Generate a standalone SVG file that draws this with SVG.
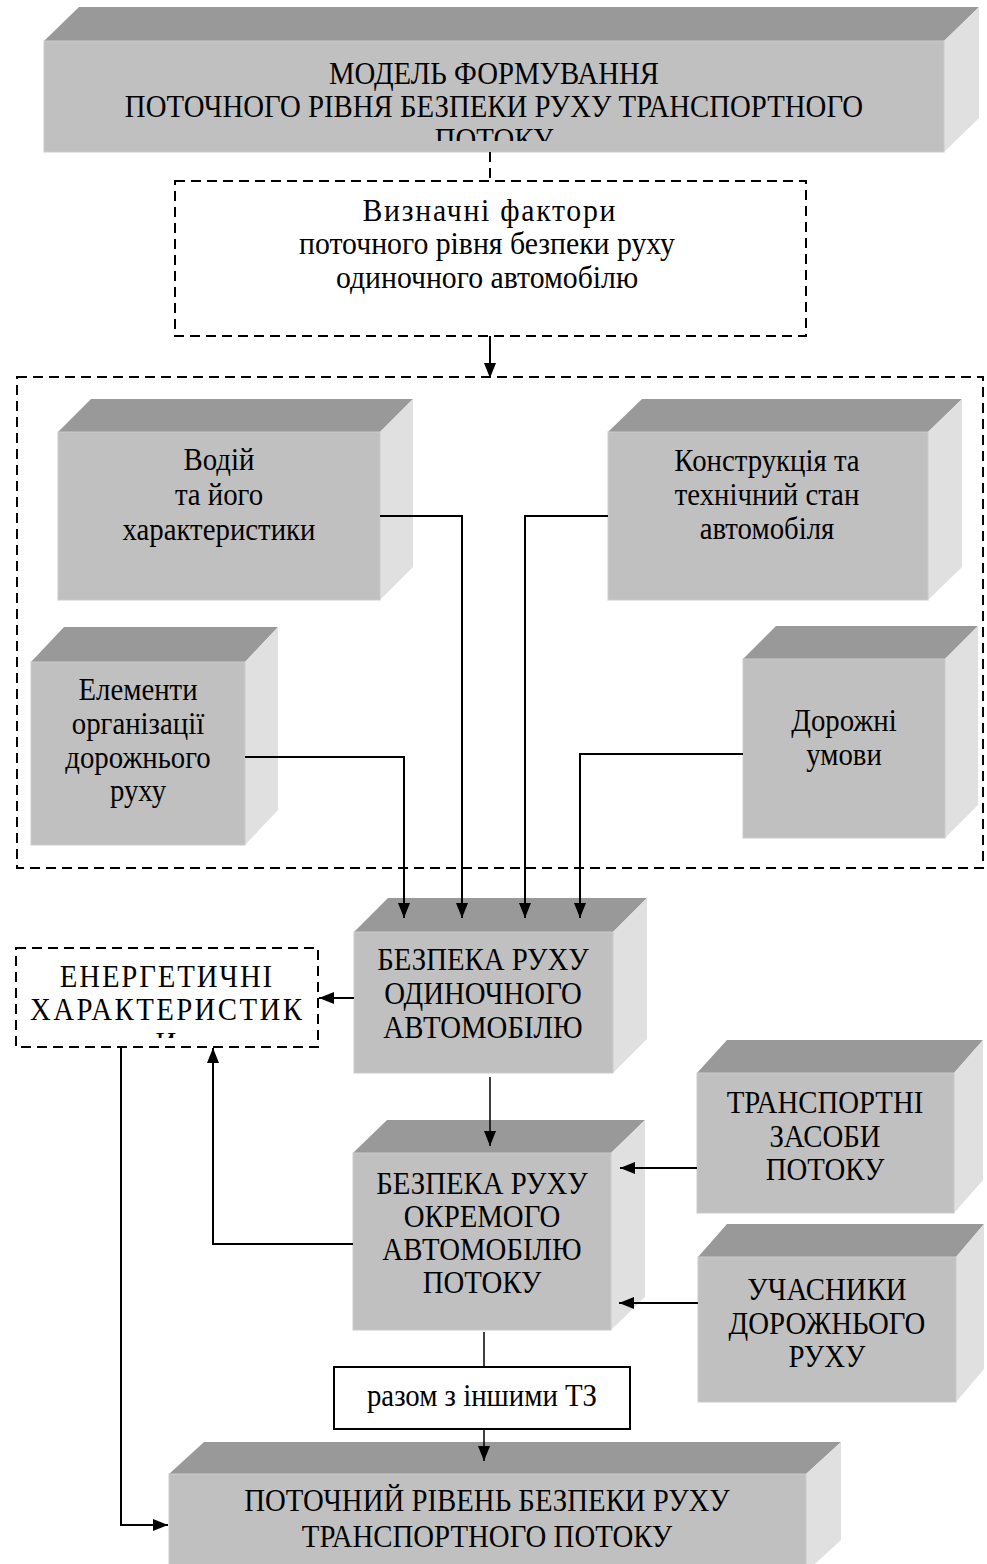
<svg xmlns="http://www.w3.org/2000/svg" width="987" height="1564" viewBox="0 0 987 1564">
<style>
.front{fill:#c0c0c0;stroke:#cbcbcb;stroke-width:1}
.top{fill:#999999}
.side{fill:#e0e0e0}
.t{font-family:"Liberation Serif","Times New Roman",serif;font-size:32px;fill:#000;text-anchor:middle}
.conn{fill:none;stroke:#000;stroke-width:2}
.thin{fill:none;stroke:#000;stroke-width:1.5}
.dash{fill:none;stroke:#000;stroke-width:2;stroke-dasharray:10 6}
</style>
<defs>
<marker id="ah" markerUnits="userSpaceOnUse" markerWidth="16" markerHeight="14" viewBox="0 0 16 14" refX="15" refY="6" orient="auto">
<path d="M0,0 L15,6 L0,12 Z" fill="#000"/>
</marker>
<clipPath id="clipTop"><rect x="44" y="41" width="900" height="100"/></clipPath>
<clipPath id="clipEn"><rect x="16" y="948" width="302" height="90"/></clipPath>
</defs>

<g id="model">
<polygon class="top" points="44,41 79,7 979,7 944,41"/>
<polygon class="side" points="944,41 979,7 979,118 944,152"/>
<rect class="front" x="44" y="41" width="900" height="111"/>
<g clip-path="url(#clipTop)">
<text class="t" transform="translate(494,84) scale(0.9,1)">МОДЕЛЬ ФОРМУВАННЯ</text>
<text class="t" transform="translate(494,117) scale(0.9,1)">ПОТОЧНОГО РІВНЯ БЕЗПЕКИ РУХУ ТРАНСПОРТНОГО</text>
<text class="t" transform="translate(494,150) scale(0.9,1)">ПОТОКУ</text>
</g>
</g>

<g id="factors">
<rect class="dash" x="175" y="181" width="631" height="155"/>
<text class="t" transform="translate(489,221) scale(0.93,1)" textLength="272">Визначні фактори</text>
<text class="t" transform="translate(487,254) scale(0.93,1)">поточного рівня безпеки руху</text>
<text class="t" transform="translate(487,288) scale(0.93,1)">одиночного автомобілю</text>
</g>

<g id="factor-group">
<rect class="dash" x="17" y="377" width="966" height="491"/>
</g>

<g id="driver">
<polygon class="top" points="58,432 91,399 413,399 380,432"/>
<polygon class="side" points="380,432 413,399 413,567 380,600"/>
<rect class="front" x="58" y="432" width="322" height="168"/>
<text class="t" transform="translate(219,470) scale(0.9,1)">Водій</text>
<text class="t" transform="translate(219,505) scale(0.9,1)">та його</text>
<text class="t" transform="translate(219,540) scale(0.9,1)">характеристики</text>
</g>

<g id="vehicle">
<polygon class="top" points="608,432 642,399 962,399 928,432"/>
<polygon class="side" points="928,432 962,399 962,567 928,600"/>
<rect class="front" x="608" y="432" width="320" height="168"/>
<text class="t" transform="translate(767,471) scale(0.9,1)">Конструкція та</text>
<text class="t" transform="translate(767,505) scale(0.9,1)">технічний стан</text>
<text class="t" transform="translate(767,539) scale(0.9,1)">автомобіля</text>
</g>

<g id="organization">
<polygon class="top" points="31,662 64,627 278,627 245,662"/>
<polygon class="side" points="245,662 278,627 278,810 245,845"/>
<rect class="front" x="31" y="662" width="214" height="183"/>
<text class="t" transform="translate(138,700) scale(0.9,1)">Елементи</text>
<text class="t" transform="translate(138,734) scale(0.9,1)">організації</text>
<text class="t" transform="translate(138,768) scale(0.9,1)">дорожнього</text>
<text class="t" transform="translate(138,801) scale(0.9,1)">руху</text>
</g>

<g id="road">
<polygon class="top" points="743,659 776,626 978,626 945,659"/>
<polygon class="side" points="945,659 978,626 978,805 945,838"/>
<rect class="front" x="743" y="659" width="202" height="179"/>
<text class="t" transform="translate(844,731) scale(0.9,1)">Дорожні</text>
<text class="t" transform="translate(844,765) scale(0.9,1)">умови</text>
</g>

<g id="single-car">
<polygon class="top" points="354,932 388,898 647,898 613,932"/>
<polygon class="side" points="613,932 647,898 647,1039 613,1073"/>
<rect class="front" x="354" y="932" width="259" height="141"/>
<text class="t" transform="translate(483,970) scale(0.9,1)">БЕЗПЕКА РУХУ</text>
<text class="t" transform="translate(483,1004) scale(0.9,1)">ОДИНОЧНОГО</text>
<text class="t" transform="translate(483,1038) scale(0.9,1)">АВТОМОБІЛЮ</text>
</g>

<g id="energy">
<rect class="dash" x="16" y="948" width="302" height="99"/>
<g clip-path="url(#clipEn)">
<text class="t" transform="translate(166,987) scale(0.9,1)" textLength="236">ЕНЕРГЕТИЧНІ</text>
<text class="t" transform="translate(166,1020) scale(0.9,1)" textLength="302">ХАРАКТЕРИСТИК</text>
<text class="t" transform="translate(166,1054) scale(0.9,1)">И</text>
</g>
</g>

<g id="stream-car">
<polygon class="top" points="353,1153 387,1120 645,1120 611,1153"/>
<polygon class="side" points="611,1153 645,1120 645,1297 611,1330"/>
<rect class="front" x="353" y="1153" width="258" height="177"/>
<text class="t" transform="translate(482,1194) scale(0.9,1)">БЕЗПЕКА РУХУ</text>
<text class="t" transform="translate(482,1227) scale(0.9,1)">ОКРЕМОГО</text>
<text class="t" transform="translate(482,1260) scale(0.9,1)">АВТОМОБІЛЮ</text>
<text class="t" transform="translate(482,1293) scale(0.9,1)">ПОТОКУ</text>
</g>

<g id="vehicles">
<polygon class="top" points="697,1073 727,1040 983,1040 954,1073"/>
<polygon class="side" points="954,1073 983,1040 983,1180 954,1213"/>
<rect class="front" x="697" y="1073" width="257" height="140"/>
<text class="t" transform="translate(825,1113) scale(0.9,1)">ТРАНСПОРТНІ</text>
<text class="t" transform="translate(825,1147) scale(0.9,1)">ЗАСОБИ</text>
<text class="t" transform="translate(825,1180) scale(0.9,1)">ПОТОКУ</text>
</g>

<g id="participants">
<polygon class="top" points="698,1257 727,1224 984,1224 956,1257"/>
<polygon class="side" points="956,1257 984,1224 984,1369 956,1402"/>
<rect class="front" x="698" y="1257" width="258" height="145"/>
<text class="t" transform="translate(827,1300) scale(0.9,1)">УЧАСНИКИ</text>
<text class="t" transform="translate(827,1334) scale(0.9,1)">ДОРОЖНЬОГО</text>
<text class="t" transform="translate(827,1367) scale(0.9,1)">РУХУ</text>
</g>

<g id="together">
<rect x="334" y="1367" width="296" height="62" fill="#fff" stroke="#000" stroke-width="2"/>
<text class="t" transform="translate(482,1406) scale(0.9,1)">разом з іншими ТЗ</text>
</g>

<g id="result">
<polygon class="top" points="169,1474 204,1442 841,1442 806,1474"/>
<polygon class="side" points="806,1474 841,1442 841,1540 806,1572"/>
<rect class="front" x="169" y="1474" width="637" height="100"/>
<text class="t" transform="translate(487,1511) scale(0.9,1)">ПОТОЧНИЙ РІВЕНЬ БЕЗПЕКИ РУХУ</text>
<text class="t" transform="translate(487,1547) scale(0.9,1)">ТРАНСПОРТНОГО ПОТОКУ</text>
</g>

<g id="connectors">
<line class="dash" x1="490" y1="152" x2="490" y2="181"/>
<line class="conn" x1="490" y1="336" x2="490" y2="378" marker-end="url(#ah)"/>
<polyline class="conn" points="380,516 462,516 462,918" marker-end="url(#ah)"/>
<polyline class="conn" points="608,516 525,516 525,918" marker-end="url(#ah)"/>
<polyline class="conn" points="245,757 404,757 404,918" marker-end="url(#ah)"/>
<polyline class="conn" points="743,754 580,754 580,918" marker-end="url(#ah)"/>
<line class="conn" x1="354" y1="998" x2="319" y2="998" marker-end="url(#ah)"/>
<line class="thin" x1="490" y1="1077" x2="490" y2="1146" marker-end="url(#ah)"/>
<line class="conn" x1="697" y1="1168" x2="620" y2="1168" marker-end="url(#ah)"/>
<line class="conn" x1="698" y1="1303" x2="619" y2="1303" marker-end="url(#ah)"/>
<polyline class="conn" points="353,1244 213,1244 213,1048" marker-end="url(#ah)"/>
<polyline class="conn" points="121,1047 121,1525 168,1525" marker-end="url(#ah)"/>
<line class="thin" x1="484" y1="1332" x2="484" y2="1366"/>
<line class="thin" x1="484" y1="1429" x2="484" y2="1461" marker-end="url(#ah)"/>
</g>
</svg>
